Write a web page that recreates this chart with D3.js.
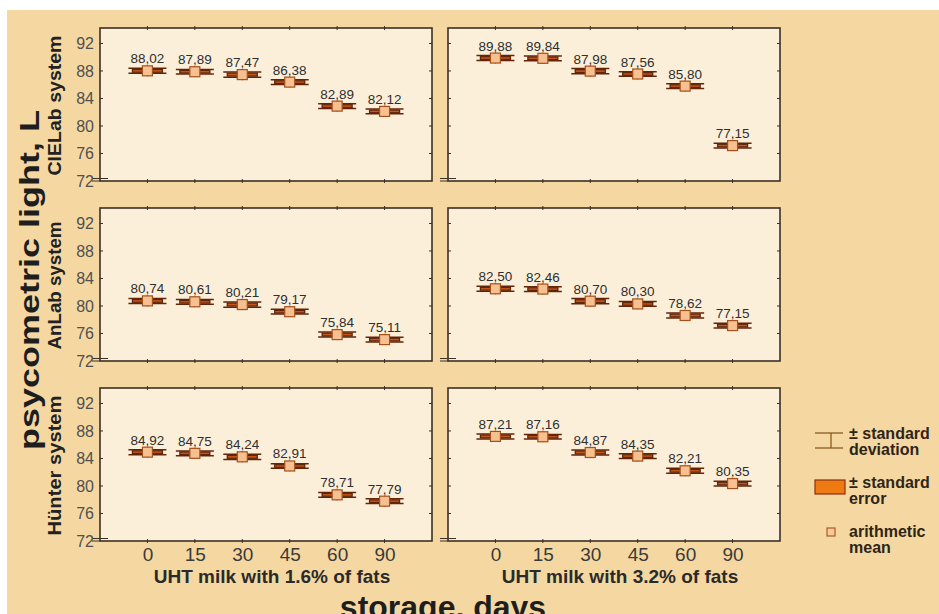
<!DOCTYPE html>
<html><head><meta charset="utf-8">
<script src="https://cdn.jsdelivr.net/npm/d3@7"></script>
<style>body{margin:0;background:#fff}svg{display:block}</style>
</head><body>
<script>
const days = ["0","15","30","45","60","90"];
const groups = ["UHT milk with 1.6% of fats","UHT milk with 3.2% of fats"];
const systems = ["CIELab system","AnLab system","Hünter system"];
const yTicks = [72,76,80,84,88,92];
// means [system][group][day]
const cielab16 = [88.02,87.89,87.47,86.38,82.89,82.12];
const cielab32 = [89.88,89.84,87.98,87.56,85.80,77.15];
const anlab16  = [80.74,80.61,80.21,79.17,75.84,75.11];
const anlab32  = [82.50,82.46,80.70,80.30,78.62,77.15];
const hunter16 = [84.92,84.75,84.24,82.91,78.71,77.79];
const hunter32 = [87.21,87.16,84.87,84.35,82.21,80.35];
// estimated spread (small, read from bar thickness)
const sdVals = [0.36,0.34,0.38,0.34,0.36,0.34];
const seVals = [0.20,0.19,0.21,0.19,0.20,0.19];
const means = [[cielab16,cielab32],[anlab16,anlab32],[hunter16,hunter32]];

const W=939,H=614;
const svg=d3.select("body").append("svg").attr("width",W).attr("height",H);
svg.append("rect").attr("x",7).attr("y",10).attr("width",W-7).attr("height",H-10).attr("fill","#f5d8a1");

const colX=[100,448], panelW=332, rowY=[28,208,388], panelH=153;
const rowLabelLen=[140,128,140];
const fmt = v => v.toFixed(2).replace(".",",");
const font="Arial, 'Liberation Sans', sans-serif";

systems.forEach((sys,r)=>{
  const y=d3.scaleLinear().domain([72,94.25]).range([rowY[r]+panelH,rowY[r]]);
  groups.forEach((g,c)=>{
    const x=d3.scalePoint().domain(days).range([colX[c],colX[c]+panelW]).padding(1);
    const p=svg.append("g");
    p.append("rect").attr("x",colX[c]).attr("y",rowY[r]).attr("width",panelW).attr("height",panelH)
      .attr("fill","#fcefda").attr("stroke","#3a3024").attr("stroke-width",1.6);
    if(c===0){
      const ax=svg.append("g").attr("transform",`translate(${colX[c]},0)`)
        .call(d3.axisLeft(y).tickValues(yTicks).tickSize(0).tickPadding(6));
      ax.select(".domain").remove();
      ax.selectAll("text").attr("font-family",font).attr("font-size",16).attr("fill","#505050");
    }
    p.selectAll(".rt").data(yTicks.slice(1)).join("line")
      .attr("x1",colX[c]+panelW-3).attr("x2",colX[c]+panelW).attr("y1",d=>y(d)).attr("y2",d=>y(d))
      .attr("stroke","#3a3024").attr("stroke-width",1);
    p.selectAll(".lt").data(yTicks.slice(1)).join("line")
      .attr("x1",colX[c]).attr("x2",colX[c]+3).attr("y1",d=>y(d)).attr("y2",d=>y(d))
      .attr("stroke","#3a3024").attr("stroke-width",1);
    [rowY[r], rowY[r]+panelH].forEach(yy=>{
      p.selectAll(null).data(days).join("line")
        .attr("x1",d=>x(d)).attr("x2",d=>x(d)).attr("y1",yy-2).attr("y2",yy+2)
        .attr("stroke","#3a3024").attr("stroke-width",1);
    });
    p.append("line").attr("x1",colX[c]-8).attr("x2",colX[c]+8).attr("y1",y(72)-2.5).attr("y2",y(72)-2.5)
      .attr("stroke","#3a3024").attr("stroke-width",1);
    p.append("line").attr("x1",colX[c]-8).attr("x2",colX[c]).attr("y1",y(72)).attr("y2",y(72))
      .attr("stroke","#3a3024").attr("stroke-width",1);
    const data=means[r][c].map((m,i)=>({d:days[i],m,sd:sdVals[i],se:seVals[i]}));
    const mk=p.selectAll(".mk").data(data).join("g");
    mk.append("line").attr("x1",d=>x(d.d)).attr("x2",d=>x(d.d))
      .attr("y1",d=>y(d.m+d.sd)-3).attr("y2",d=>y(d.m-d.sd)+3).attr("stroke","#7a3a12").attr("stroke-width",1);
    mk.append("line").attr("x1",d=>x(d.d)-19).attr("x2",d=>x(d.d)+19)
      .attr("y1",d=>y(d.m+d.sd)).attr("y2",d=>y(d.m+d.sd)).attr("stroke","#62250a").attr("stroke-width",1.5);
    mk.append("line").attr("x1",d=>x(d.d)-19).attr("x2",d=>x(d.d)+19)
      .attr("y1",d=>y(d.m-d.sd)).attr("y2",d=>y(d.m-d.sd)).attr("stroke","#62250a").attr("stroke-width",1.5);
    mk.append("rect").attr("x",d=>x(d.d)-15).attr("width",30)
      .attr("y",d=>y(d.m+d.se)).attr("height",d=>Math.max(1,y(d.m-d.se)-y(d.m+d.se)))
      .attr("fill","#c8581a").attr("stroke","#62250a").attr("stroke-width",1.3);
    mk.append("rect").attr("x",d=>x(d.d)-5).attr("y",d=>y(d.m)-5).attr("width",10).attr("height",10)
      .attr("fill","#f6c090").attr("stroke","#a4501c").attr("stroke-width",1.2);
    mk.append("text").attr("x",d=>x(d.d)).attr("y",d=>y(d.m)-7.5).attr("text-anchor","middle")
      .attr("font-family",font).attr("font-size",13.5).attr("fill","#2e2e2e").text(d=>fmt(d.m));
    if(r===2){
      const bx=svg.append("g").attr("transform",`translate(0,${rowY[r]+panelH})`)
        .call(d3.axisBottom(x).tickSize(0).tickPadding(7));
      bx.select(".domain").remove();
      bx.selectAll("text").attr("font-family",font).attr("font-size",19).attr("fill","#3a3a3a");
      svg.append("text").attr("x",colX[c]+panelW/2+6).attr("y",583).attr("text-anchor","middle")
        .attr("font-family",font).attr("font-size",19).attr("font-weight","bold").attr("fill","#2a2a2a").text(g);
    }
  });
  svg.append("text").attr("transform",`translate(61,${rowY[r]+panelH/2+1}) rotate(-90)`)
    .attr("text-anchor","middle").attr("font-family",font).attr("font-size",18).attr("font-weight","bold")
    .attr("textLength",rowLabelLen[r]).attr("lengthAdjust","spacingAndGlyphs")
    .attr("fill","#222").text(sys);
});

svg.append("text").attr("transform","translate(39,280) rotate(-90)").attr("text-anchor","middle")
  .attr("font-family",font).attr("font-size",28).attr("font-weight","bold").attr("fill","#1e1e1e")
  .attr("textLength",340).attr("lengthAdjust","spacingAndGlyphs")
  .text("psycometric light, L");
svg.append("text").attr("x",443).attr("y",618).attr("text-anchor","middle")
  .attr("font-family",font).attr("font-size",32).attr("font-weight","bold").attr("fill","#1e1e1e")
  .text("storage, days");

const lg=svg.append("g");
const legendItems=[["± standard","deviation"],["± standard","error"],["arithmetic","mean"]];
const lgBase=[439,488,537];
lg.append("line").attr("x1",815).attr("x2",843).attr("y1",433).attr("y2",433).attr("stroke","#8a5a22").attr("stroke-width",1.3);
lg.append("line").attr("x1",815).attr("x2",843).attr("y1",448).attr("y2",448).attr("stroke","#8a5a22").attr("stroke-width",1.3);
lg.append("line").attr("x1",831).attr("x2",831).attr("y1",433).attr("y2",448).attr("stroke","#8a5a22").attr("stroke-width",1.3);
lg.append("rect").attr("x",815).attr("y",480).attr("width",30).attr("height",14).attr("fill","#f07a12").attr("stroke","#8a3010").attr("stroke-width",1.2);
lg.append("rect").attr("x",827).attr("y",528).attr("width",8).attr("height",8).attr("fill","#f7c89c").attr("stroke","#b05a22").attr("stroke-width",1.2);
legendItems.forEach((t,i)=>{
  const tx=lg.append("text").attr("x",849).attr("y",lgBase[i]).attr("font-family",font).attr("font-size",16)
    .attr("font-weight","bold").attr("fill","#2e2418");
  tx.append("tspan").attr("x",849).text(t[0]);
  tx.append("tspan").attr("x",849).attr("dy",15.5).text(t[1]);
});
</script>
</body></html>
